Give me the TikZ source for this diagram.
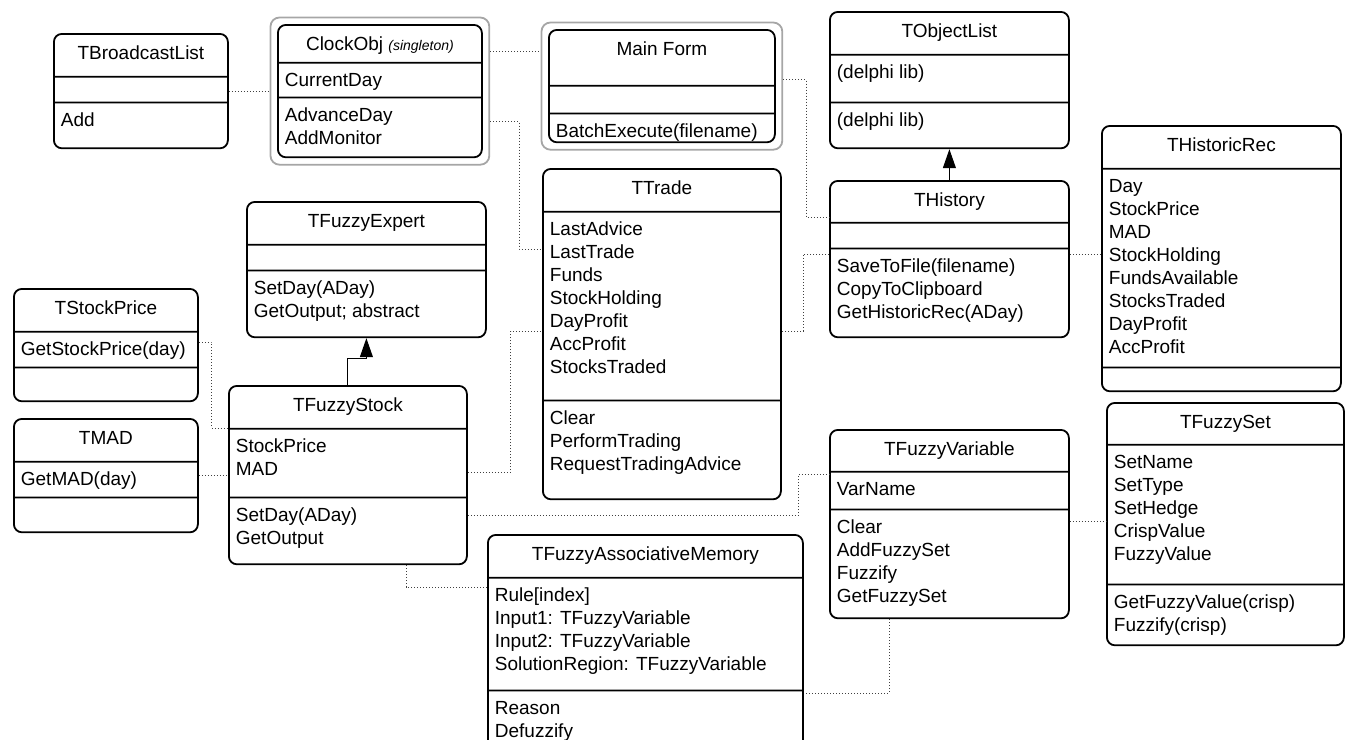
\documentclass[tikz,border=0pt]{standalone}
\usepackage{fontspec}
\setmainfont{Liberation Sans}
\usetikzlibrary{arrows.meta,calc,fit,shapes.multipart}
\tikzset{
  >={Triangle[length=9.5pt,width=6.5pt]},
}
\tikzstyle{every node}=[font=\fontsize{9.5}{11.5}\selectfont]
\tikzstyle{umlclass}=[rectangle split, rectangle split parts=3, draw, line width=0.9pt,
  rounded corners=4pt, inner xsep=3.5pt, inner ysep=0pt, anchor=north west]
\tikzstyle{singleton}=[draw=black!35, line width=0.9pt, rounded corners=4.5pt, inner sep=3.25pt]
\tikzstyle{link}=[densely dotted, line width=0.5pt, black!75]
\tikzstyle{inherit}=[->, line width=0.5pt]
\newcommand{\ctitle}[3]{\parbox[c][#2pt][t]{#1pt}{\centering\vspace*{4.5pt}\strut#3}}
\newcommand{\cpart}[3]{\parbox[c][#2pt][t]{#1pt}{\vspace*{3.25pt}\strut#3}}

\begin{document}
\begin{tikzpicture}[x=0.5pt,y=-0.5pt]
    \useasboundingbox (0,0) rectangle (1346,740);
    \node[umlclass] (bcast) at (53,33) {\ctitle{80}{20.5}{TBroadcastList}\nodepart{two}\cpart{80}{12}{}\nodepart{three}\cpart{80}{22}{Add}};
    \node[umlclass] (clock) at (277,24) {\ctitle{95}{18}{ClockObj {\fontsize{7}{8}\selectfont\itshape (singleton)}}\nodepart{two}\cpart{95}{16.5}{CurrentDay}\nodepart{three}\cpart{95}{29}{AdvanceDay\\AddMonitor}};
    \node[singleton, fit=(clock)] (clockouter) {};
    \node[umlclass] (main) at (548,29) {\ctitle{106}{27}{Main Form}\nodepart{two}\cpart{106}{13}{}\nodepart{three}\cpart{106}{13.5}{BatchExecute(filename)}};
    \node[singleton, fit=(main)] (mainouter) {};
    \node[umlclass] (objlist) at (829,11) {\ctitle{112.5}{20.5}{TObjectList}\nodepart{two}\cpart{112.5}{23}{(delphi lib)}\nodepart{three}\cpart{112.5}{22}{(delphi lib)}};
    \node[umlclass] (history) at (829,180) {\ctitle{112.5}{20}{THistory}\nodepart{two}\cpart{112.5}{12}{}\nodepart{three}\cpart{112.5}{43.5}{SaveToFile(filename)\\CopyToClipboard\\GetHistoricRec(ADay)}};
    \node[umlclass] (histrec) at (1101,125) {\ctitle{112.5}{20.5}{THistoricRec}\nodepart{two}\cpart{112.5}{98.5}{Day\\StockPrice\\MAD\\StockHolding\\FundsAvailable\\StocksTraded\\DayProfit\\AccProfit}\nodepart{three}\cpart{112.5}{11}{}};
    \node[umlclass] (trade) at (542,168) {\ctitle{112}{20.5}{TTrade}\nodepart{two}\cpart{112}{93.5}{LastAdvice\\LastTrade\\Funds\\StockHolding\\DayProfit\\AccProfit\\StocksTraded}\nodepart{three}\cpart{112}{48.5}{Clear\\PerformTrading\\RequestTradingAdvice}};
    \node[umlclass] (expert) at (246,201) {\ctitle{112.5}{20.5}{TFuzzyExpert}\nodepart{two}\cpart{112.5}{12}{}\nodepart{three}\cpart{112.5}{32.5}{SetDay(ADay)\\GetOutput; abstract}};
    \node[umlclass] (sprice) at (13,288) {\ctitle{85}{20.5}{TStockPrice}\nodepart{two}\cpart{85}{17}{GetStockPrice(day)}\nodepart{three}\cpart{85}{16}{}};
    \node[umlclass] (tmad) at (13,418) {\ctitle{85}{20.5}{TMAD}\nodepart{two}\cpart{85}{17}{GetMAD(day)}\nodepart{three}\cpart{85}{16.5}{}};
    \node[umlclass] (fstock) at (228,385) {\ctitle{112}{20.5}{TFuzzyStock}\nodepart{two}\cpart{112}{33.5}{StockPrice\\MAD}\nodepart{three}\cpart{112}{32.5}{SetDay(ADay)\\GetOutput}};
    \node[umlclass] (fvar) at (829,429) {\ctitle{112.5}{20}{TFuzzyVariable}\nodepart{two}\cpart{112.5}{18}{VarName}\nodepart{three}\cpart{112.5}{53.5}{Clear\\AddFuzzySet\\Fuzzify\\GetFuzzySet}};
    \node[umlclass] (fset) at (1106,402) {\ctitle{111.5}{20}{TFuzzySet}\nodepart{two}\cpart{111.5}{69}{SetName\\SetType\\SetHedge\\CrispValue\\FuzzyValue}\nodepart{three}\cpart{111.5}{29.5}{GetFuzzyValue(crisp)\\Fuzzify(crisp)}};
    \node[umlclass] (fam) at (487,534) {\ctitle{150.5}{20.5}{TFuzzyAssociativeMemory}\nodepart{two}\cpart{150.5}{55.5}{Rule[index]\\Input1: TFuzzyVariable\\Input2: TFuzzyVariable\\SolutionRegion: TFuzzyVariable}\nodepart{three}\cpart{150.5}{35}{Reason\\Defuzzify}};
    \coordinate (clockmain) at ($(clockouter.north east)+(0,35)$);
    \draw[link] (bcast.east) -- (bcast.east -| clockouter.west);
    \draw[link] (clockmain) -- (clockmain -| mainouter.west);
    \draw[link] ($(clockouter.north east)+(0,105)$) -- ++(29,0) |- ($(trade.north west)+(0,81)$);
    \draw[link] ($(mainouter.north east)+(0,58)$) -- ++(23,0) |- ($(history.north west)+(0,37)$);
    \draw[link] ($(history.north west)+(0,74)$) -- ++(-26,0) |- ($(trade.north east)+(0,163)$);
    \draw[link] ($(history.north east)+(0,74)$) -- ($(histrec.north west)+(0,129)$);
    \draw[link] ($(sprice.north east)+(0,54)$) -- ++(13,0) |- ($(fstock.north west)+(0,43)$);
    \draw[link] (tmad.east) -- (tmad.east -| fstock.west);
    \draw[link] ($(fstock.north east)+(0,87)$) -- ++(43,0) |- ($(trade.north west)+(0,163)$);
    \draw[link] ($(fstock.north east)+(0,130)$) -- ++(331,0) |- ($(fvar.north west)+(0,45)$);
    \draw[link] ($(fstock.south west)+(178,0)$) |- ($(fam.north west)+(0,53)$);
    \draw[link] ($(fvar.south west)+(60,0)$) |- ($(fam.north east)+(0,159)$);
    \draw[link] ($(fvar.north east)+(0,92)$) -- ($(fset.north west)+(0,119)$);
    \draw[inherit] (history.north) -- (objlist.south);
    \draw[inherit] (fstock.north) -- ++(0,-27) -| (expert.south);
\end{tikzpicture}
\end{document}
